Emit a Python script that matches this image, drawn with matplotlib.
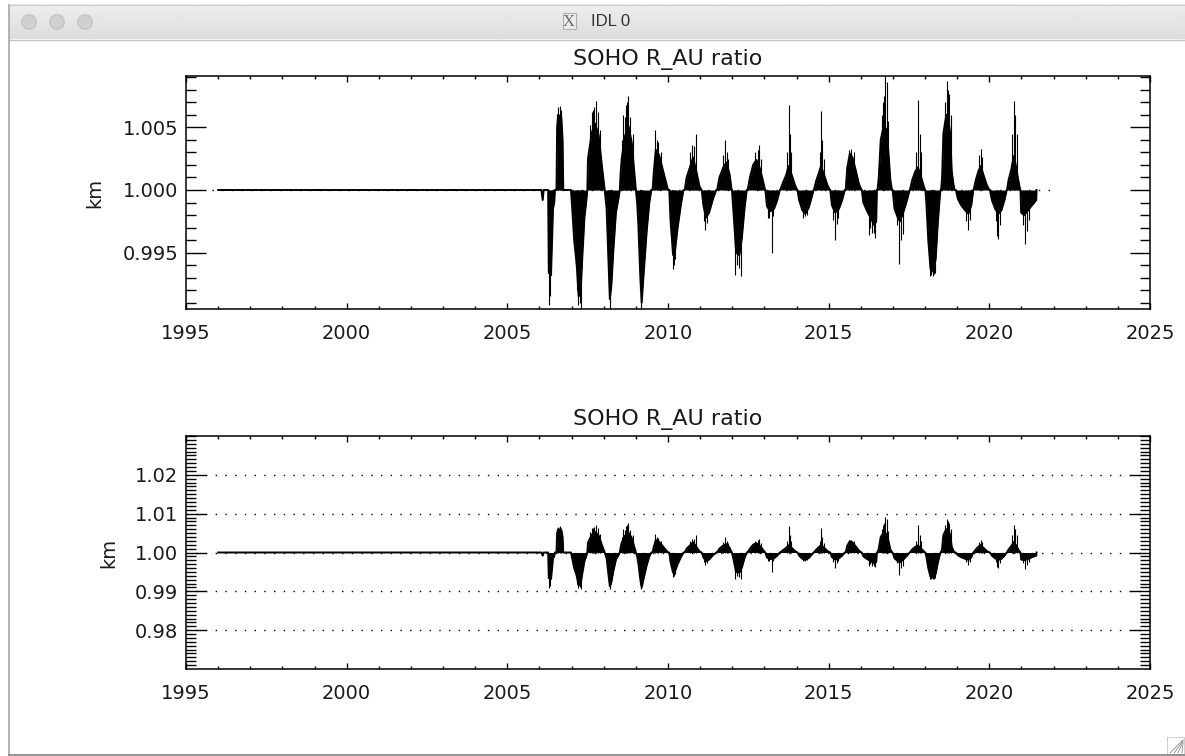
import matplotlib
matplotlib.use('Agg')
import numpy as np
import matplotlib.pyplot as plt
from matplotlib.patches import Rectangle, Circle
from matplotlib.ticker import FixedLocator, FormatStrFormatter

# SOHO R_AU ratio (decimal year, ratio)
# body of the curve: flat until 2006, then yearly lobes above / below 1
trace_t = [1996.00, 2006.06, 2006.10, 2006.13, 2006.27,
           2006.29, 2006.36, 2006.39, 2006.42, 2006.46, 2006.48,
           2006.53, 2006.55, 2006.58, 2006.68, 2006.72, 2006.74, 2006.98,
           2007.02, 2007.08, 2007.16, 2007.22, 2007.28, 2007.34, 2007.40, 2007.46, 2007.49,
           2007.51, 2007.63, 2007.73, 2007.84, 2007.94, 2008.03,
           2008.09, 2008.14, 2008.19, 2008.24, 2008.30, 2008.38, 2008.45, 2008.50,
           2008.53, 2008.56, 2008.66, 2008.77, 2008.87, 2008.94, 2009.00,
           2009.04, 2009.08, 2009.13, 2009.18, 2009.25, 2009.34, 2009.42, 2009.48,
           2009.52, 2009.56, 2009.62, 2009.72, 2009.82, 2009.92, 2010.00,
           2010.04, 2010.08, 2010.16, 2010.22, 2010.30, 2010.40, 2010.48,
           2010.52, 2010.58, 2010.68, 2010.78, 2010.88, 2010.98, 2011.04,
           2011.05, 2011.10, 2011.18, 2011.28, 2011.40, 2011.50,
           2011.53, 2011.60, 2011.72, 2011.82, 2011.92, 2011.98,
           2011.99, 2012.05, 2012.12, 2012.22, 2012.30, 2012.38, 2012.45,
           2012.48, 2012.55, 2012.65, 2012.75, 2012.85, 2012.95, 2013.02,
           2013.03, 2013.08, 2013.18, 2013.30, 2013.40, 2013.48,
           2013.49, 2013.58, 2013.68, 2013.75, 2013.85, 2013.95, 2014.02,
           2014.03, 2014.08, 2014.18, 2014.27, 2014.38, 2014.48, 2014.53,
           2014.54, 2014.62, 2014.70, 2014.76, 2014.86, 2014.96, 2015.04,
           2015.05, 2015.10, 2015.20, 2015.32, 2015.42, 2015.50,
           2015.53, 2015.58, 2015.66, 2015.74, 2015.84, 2015.94, 2016.02,
           2016.03, 2016.08, 2016.18, 2016.30, 2016.42, 2016.48, 2016.50,
           2016.52, 2016.56, 2016.62, 2016.72, 2016.80, 2016.86, 2016.92, 2016.97,
           2016.99, 2017.05, 2017.15, 2017.22, 2017.32, 2017.45, 2017.52,
           2017.53, 2017.60, 2017.70, 2017.78, 2017.88, 2017.96, 2018.00,
           2018.01, 2018.04, 2018.10, 2018.17, 2018.26, 2018.33, 2018.40, 2018.46, 2018.48,
           2018.50, 2018.53, 2018.57, 2018.66, 2018.72, 2018.78, 2018.83, 2018.88, 2018.92,
           2018.96, 2019.02, 2019.12, 2019.24, 2019.35, 2019.44, 2019.50,
           2019.51, 2019.58, 2019.66, 2019.73, 2019.82, 2019.92, 2020.00,
           2020.02, 2020.08, 2020.18, 2020.28, 2020.38, 2020.48, 2020.54,
           2020.55, 2020.60, 2020.68, 2020.76, 2020.82, 2020.90, 2020.96,
           2020.97, 2020.99, 2021.08, 2021.18, 2021.30, 2021.40, 2021.46, 2021.47]
trace_v = [1.0000, 1.0000, 0.9992, 1.0000, 1.0000,
           0.9934, 0.9932, 0.9960, 0.9985, 0.9990, 1.0000,
           1.0000, 1.0050, 1.0060, 1.0058, 1.0040, 1.0000, 1.0000,
           0.9985, 0.9960, 0.9940, 0.9915, 0.9918, 0.9950, 0.9978, 0.9992, 1.0000,
           1.0025, 1.0046, 1.0053, 1.0044, 1.0020, 1.0000,
           0.9985, 0.9950, 0.9913, 0.9925, 0.9952, 0.9982, 0.9992, 1.0000,
           1.0015, 1.0025, 1.0043, 1.0051, 1.0038, 1.0017, 1.0000,
           0.9990, 0.9971, 0.9936, 0.9910, 0.9936, 0.9968, 0.9990, 1.0000,
           1.0000, 1.0015, 1.0032, 1.0028, 1.0018, 1.0008, 1.0000,
           1.0000, 0.9975, 0.9948, 0.9952, 0.9970, 0.9988, 1.0000,
           1.0000, 1.0010, 1.0018, 1.0026, 1.0015, 1.0003, 1.0000,
           1.0000, 0.9988, 0.9978, 0.9982, 0.9993, 1.0000,
           1.0000, 1.0010, 1.0018, 1.0022, 1.0012, 1.0000,
           1.0000, 0.9978, 0.9950, 0.9948, 0.9962, 0.9985, 1.0000,
           1.0000, 1.0010, 1.0020, 1.0024, 1.0018, 1.0008, 1.0000,
           1.0000, 0.9987, 0.9983, 0.9985, 0.9992, 1.0000,
           1.0000, 1.0006, 1.0012, 1.0019, 1.0012, 1.0004, 1.0000,
           1.0000, 0.9992, 0.9984, 0.9981, 0.9986, 0.9995, 1.0000,
           1.0000, 1.0008, 1.0014, 1.0019, 1.0012, 1.0004, 1.0000,
           1.0000, 0.9988, 0.9982, 0.9985, 0.9992, 1.0000,
           1.0000, 1.0018, 1.0029, 1.0026, 1.0016, 1.0005, 1.0000,
           1.0000, 0.9990, 0.9984, 0.9978, 0.9972, 0.9975, 1.0000,
           1.0000, 1.0010, 1.0040, 1.0052, 1.0048, 1.0030, 1.0008, 1.0000,
           1.0000, 0.9985, 0.9978, 0.9975, 0.9982, 0.9993, 1.0000,
           1.0000, 1.0008, 1.0015, 1.0018, 1.0010, 1.0003, 1.0000,
           1.0000, 0.9990, 0.9960, 0.9937, 0.9935, 0.9945, 0.9975, 0.9995, 1.0000,
           1.0000, 1.0010, 1.0045, 1.0060, 1.0058, 1.0045, 1.0015, 1.0005, 1.0000,
           1.0000, 0.9993, 0.9988, 0.9984, 0.9981, 0.9988, 1.0000,
           1.0000, 1.0008, 1.0015, 1.0019, 1.0012, 1.0004, 1.0000,
           1.0000, 0.9992, 0.9985, 0.9981, 0.9984, 0.9993, 1.0000,
           1.0000, 1.0008, 1.0016, 1.0027, 1.0020, 1.0008, 1.0000,
           1.0000, 0.9982, 0.9980, 0.9983, 0.9987, 0.9990, 0.9992, 1.0000]

# single spikes sticking out of the lobes
spike_up_t = [2006.58, 2006.64, 2006.68, 2007.58, 2007.64, 2007.67, 2007.70, 2007.76,
              2007.81, 2007.88, 2008.57, 2008.60, 2008.65, 2008.70, 2008.73, 2008.77,
              2008.83, 2008.90, 2009.60, 2009.65, 2009.70, 2009.78, 2010.70, 2010.76,
              2010.82, 2010.86, 2011.70, 2011.78, 2011.84, 2011.88, 2012.70, 2012.79,
              2012.83, 2012.90, 2013.70, 2013.75, 2013.79, 2013.82, 2014.72, 2014.75,
              2014.80, 2014.85, 2015.62, 2015.70, 2015.78, 2016.65, 2016.68, 2016.72,
              2016.76, 2016.81, 2016.85, 2017.72, 2017.77, 2017.83, 2017.86, 2018.62,
              2018.68, 2018.72, 2018.76, 2018.80, 2019.68, 2019.73, 2019.78, 2020.72,
              2020.77, 2020.80, 2020.85]
spike_up_v = [1.0066, 1.0067, 1.0064, 1.0052, 1.0062, 1.0064, 1.0066, 1.0071,
              1.0062, 1.0048, 1.0040, 1.0060, 1.0058, 1.0068, 1.0070, 1.0075,
              1.0058, 1.0045, 1.0048, 1.0040, 1.0038, 1.0030, 1.0030, 1.0036,
              1.0035, 1.0045, 1.0028, 1.0040, 1.0030, 1.0025, 1.0030, 1.0032,
              1.0036, 1.0025, 1.0030, 1.0068, 1.0045, 1.0030, 1.0030, 1.0063,
              1.0040, 1.0025, 1.0032, 1.0033, 1.0030, 1.0060, 1.0070, 1.0075,
              1.0091, 1.0086, 1.0055, 1.0030, 1.0072, 1.0045, 1.0030, 1.0070,
              1.0087, 1.0080, 1.0077, 1.0060, 1.0028, 1.0033, 1.0026, 1.0045,
              1.0071, 1.0060, 1.0045]
spike_dn_t = [2006.30, 2006.33, 2006.40, 2007.14, 2007.18, 2007.21, 2007.25, 2007.28,
              2007.34, 2008.14, 2008.16, 2008.18, 2008.21, 2008.24, 2009.12, 2009.14,
              2009.16, 2009.20, 2009.22, 2010.12, 2010.14, 2010.17, 2010.19, 2010.22,
              2011.12, 2011.15, 2011.22, 2012.09, 2012.14, 2012.20, 2012.26, 2013.12,
              2013.15, 2013.23, 2013.28, 2014.20, 2014.26, 2014.32, 2015.15, 2015.20,
              2015.25, 2015.30, 2016.24, 2016.30, 2016.36, 2016.40, 2016.44, 2017.12,
              2017.19, 2017.25, 2017.30, 2018.16, 2018.20, 2018.24, 2018.28, 2018.30,
              2019.28, 2019.35, 2019.40, 2020.20, 2020.24, 2020.28, 2020.33, 2021.05,
              2021.11, 2021.16, 2021.22]
spike_dn_v = [0.9908, 0.9915, 0.9960, 0.9940, 0.9920, 0.9908, 0.9910, 0.9905,
              0.9955, 0.9945, 0.9925, 0.9905, 0.9910, 0.9920, 0.9925, 0.9920,
              0.9905, 0.9915, 0.9935, 0.9955, 0.9950, 0.9937, 0.9940, 0.9945,
              0.9975, 0.9968, 0.9974, 0.9932, 0.9940, 0.9938, 0.9931, 0.9978,
              0.9978, 0.9950, 0.9979, 0.9978, 0.9979, 0.9980, 0.9976, 0.9960,
              0.9973, 0.9978, 0.9964, 0.9970, 0.9966, 0.9966, 0.9962, 0.9972,
              0.9941, 0.9960, 0.9965, 0.9931, 0.9932, 0.9931, 0.9933, 0.9934,
              0.9975, 0.9968, 0.9976, 0.9975, 0.9963, 0.9961, 0.9972, 0.9972,
              0.9957, 0.9967, 0.9976]

ref_line_t = [1995.8, 2022.0]
grid_levels = [0.98, 0.99, 1.00, 1.01, 1.02]

W, H = 1185, 756
fig = plt.figure(figsize=(W / 100, H / 100), dpi=100)
fig.patch.set_facecolor('white')

# window chrome (IDL X window on a mac)
bg = fig.add_axes([0, 0, 1, 1], zorder=-5)
bg.set_xlim(0, W)
bg.set_ylim(H, 0)
bg.axis('off')
grad = np.linspace(0.935, 0.865, 40).reshape(-1, 1)
bg.imshow(grad, extent=[8.5, W, 39.5, 5], cmap='gray', vmin=0, vmax=1, aspect='auto')
bg.plot([8.5, W], [39.5, 39.5], color='#c4c4c4', lw=1)
bg.plot([8.5, W], [5, 5], color='#cfcfcf', lw=1)
bg.plot([8.5, 8.5], [5, H], color='#a8a8a8', lw=1.2)
bg.plot([8.5, W], [755, 755], color='#808080', lw=1.2)
for cx in [29, 57, 85]:
    bg.add_patch(Circle((cx, 22), 7.3, fc='#d0d0d0', ec='#c2c2c2', lw=0.8))
bg.add_patch(Rectangle((562.5, 13), 13, 16, fc='#ededed', ec='#b0b0b0', lw=0.8))
bg.text(569, 21.5, 'X', fontsize=12, family='Liberation Serif', color='#6a6a6a',
        ha='center', va='center')
bg.text(591, 21, 'IDL 0', fontsize=12, family='Liberation Sans', color='#333333',
        ha='left', va='center')
for k in range(4):
    bg.plot([1170 + 4 * k, 1183], [753, 740 + k], color='#9a9a9a', lw=0.7)
bg.add_patch(Rectangle((1167, 737), 17, 17, fc='none', ec='#c8c8c8', lw=0.6))

ax1 = fig.add_axes([186 / W, 1 - 309 / H, 964 / W, 233 / H])
ax2 = fig.add_axes([186 / W, 1 - 669 / H, 964 / W, 233 / H])

for ax in (ax1, ax2):
    ax.fill_between(trace_t, 1.0, trace_v, color='black', lw=0)
    ax.plot(trace_t, trace_v, color='black', lw=1.4)
    ax.vlines(spike_up_t, 1.0, spike_up_v, color='black', lw=0.8)
    ax.vlines(spike_dn_t, 1.0, spike_dn_v, color='black', lw=0.8)
    ax.set_xlim(1995, 2025)
    ax.xaxis.set_major_locator(FixedLocator([1995, 2000, 2005, 2010, 2015, 2020, 2025]))
    ax.xaxis.set_minor_locator(FixedLocator(list(range(1995, 2026))))
    ax.set_title('SOHO R_AU ratio', fontsize=16, color='#1a1a1a', pad=8)
    ax.set_ylabel('km', fontsize=14, color='#1a1a1a')
    ax.tick_params(which='both', direction='in', top=True, right=True,
                   labelsize=14, labelcolor='#1a1a1a')
    ax.tick_params(axis='y', which='major', length=14.4, width=1, pad=5.5)
    ax.tick_params(axis='y', which='minor', length=7.2, width=1)
    ax.tick_params(axis='x', which='major', length=4.3, width=1, pad=11)
    ax.tick_params(axis='x', which='minor', length=2.2, width=1)
    for s in ax.spines.values():
        s.set_linewidth(1.1)

# top panel: data range, dotted unit line
ax1.plot(ref_line_t, [1.0, 1.0], color='black', lw=1, ls=(0, (1, 6)))
ax1.set_ylim(0.9905, 1.0091)
ax1.yaxis.set_major_locator(FixedLocator([0.995, 1.000, 1.005]))
ax1.yaxis.set_minor_locator(FixedLocator(list(np.round(np.arange(0.991, 1.0095, 0.001), 3))))
ax1.yaxis.set_major_formatter(FormatStrFormatter('%.3f'))
ax1.yaxis.set_label_coords(-0.085, 0.5)

# bottom panel: fixed range with dotted grid
for g in grid_levels:
    ax2.axhline(g, color='black', lw=1, ls=(0, (1, 6)), zorder=0)
ax2.set_ylim(0.97, 1.03)
ax2.yaxis.set_major_locator(FixedLocator(grid_levels))
ax2.yaxis.set_minor_locator(FixedLocator(list(np.round(np.arange(0.971, 1.0300, 0.001), 3))))
ax2.yaxis.set_major_formatter(FormatStrFormatter('%.2f'))
ax2.yaxis.set_label_coords(-0.0705, 0.5)

fig.savefig('out.png', dpi=100, facecolor='white')
